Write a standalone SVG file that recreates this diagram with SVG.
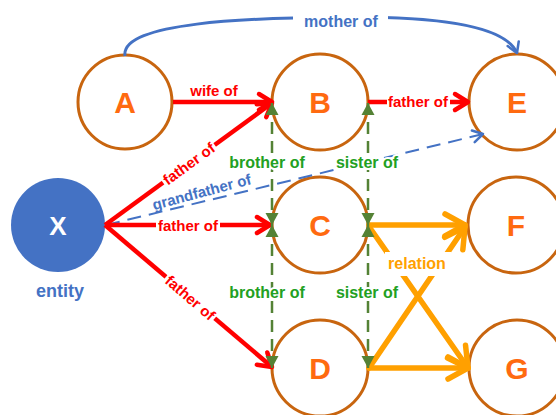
<svg xmlns="http://www.w3.org/2000/svg" width="556" height="415" viewBox="0 0 556 415">
<style>
text{font-family:"Liberation Sans",Arial,sans-serif;font-weight:bold;text-anchor:middle}
.node{fill:#fff;stroke:#C8650F;stroke-width:3}
.let{fill:#FF6A10;font-size:30px}
.red{stroke:#FF0000;stroke-width:4.5;fill:none;marker-end:url(#ar)}
.org{stroke:#FFA000;stroke-width:5.5;fill:none;marker-end:url(#ao);stroke-linecap:round}
.grn{stroke:#548235;stroke-width:2.5;fill:none;stroke-dasharray:12 7;marker-start:url(#ag);marker-end:url(#ag)}
.rl{fill:#FF0000;font-size:15px}
.gl{fill:#22A022;font-size:16px;stroke:#fff;stroke-width:4;paint-order:stroke;stroke-linejoin:round}
.bl{fill:#4472C4}
</style>
<defs>
<marker id="ar" viewBox="-16 -10 20 20" refX="0" refY="0" markerWidth="20" markerHeight="20" markerUnits="userSpaceOnUse" orient="auto" style="overflow:visible"><path d="M-13,-8 L0,0 L-13,8" fill="none" stroke="#FF0000" stroke-width="4.5" stroke-linecap="round" stroke-linejoin="round"/></marker>
<marker id="ao" viewBox="-24 -14 28 28" refX="0" refY="0" markerWidth="28" markerHeight="28" markerUnits="userSpaceOnUse" orient="auto" style="overflow:visible"><path d="M-20,-11 L0,0 L-20,11" fill="none" stroke="#FFA000" stroke-width="5.5" stroke-linecap="round" stroke-linejoin="round"/></marker>
<marker id="ab" viewBox="-12 -8 16 16" refX="0" refY="0" markerWidth="16" markerHeight="16" markerUnits="userSpaceOnUse" orient="auto" style="overflow:visible"><path d="M-10,-6 L0,0 L-10,6" fill="none" stroke="#4472C4" stroke-width="2.5" stroke-linecap="round" stroke-linejoin="round"/></marker>
<marker id="ag" viewBox="-14 -8 16 16" refX="0" refY="0" markerWidth="16" markerHeight="16" markerUnits="userSpaceOnUse" orient="auto-start-reverse" style="overflow:visible"><path d="M-12,-6.5 L0,0 L-12,6.5 Z" fill="#548235"/></marker>
</defs>

<g id="nodeA"><circle class="node" cx="125" cy="102" r="47"/><text class="let" x="125" y="113">A</text></g>
<g id="nodeB"><circle class="node" cx="320" cy="102" r="48"/><text class="let" x="320" y="113">B</text></g>
<g id="nodeE"><circle class="node" cx="517" cy="102" r="48"/><text class="let" x="517" y="113">E</text></g>
<g id="nodeC"><circle class="node" cx="320" cy="225" r="48"/><text class="let" x="320" y="236">C</text></g>
<g id="nodeF"><circle class="node" cx="516" cy="225" r="48"/><text class="let" x="516" y="236">F</text></g>
<g id="nodeD"><circle class="node" cx="320" cy="368" r="48"/><text class="let" x="320" y="379">D</text></g>
<g id="nodeG"><circle class="node" cx="517" cy="368" r="48"/><text class="let" x="517" y="379">G</text></g>
<g id="nodeX"><circle cx="58" cy="225" r="47" fill="#4472C4"/><text x="58" y="235" fill="#fff" font-size="26">X</text><text class="bl" x="60" y="297" font-size="18">entity</text></g>

<g id="connectors">
<path d="M125,56 C120,22 250,18 340,17 C430,16 505,24 517,53" fill="none" stroke="#4472C4" stroke-width="3" marker-end="url(#ab)"/>
<path d="M106,225 L483,134" fill="none" stroke="#4472C4" stroke-width="2" stroke-dasharray="14 8" marker-end="url(#ab)"/>
<path class="red" d="M173,102 L272,102"/>
<path class="red" d="M368,102 L468,102"/>
<path class="red" d="M105,225 L272,103"/>
<path class="red" d="M105,225 L270,225"/>
<path class="red" d="M105,225 L272,367"/>
<path class="org" d="M369,225 L465,225"/>
<path class="org" d="M370,228 L468,368"/>
<path class="org" d="M369,368 L465,227"/>
<path class="org" d="M369,368 L468,368"/>
<path class="grn" d="M272,103 L272,225"/>
<path class="grn" d="M272,225 L272,368"/>
<path class="grn" d="M368,103 L368,225"/>
<path class="grn" d="M368,225 L368,368"/>

<rect x="293" y="8" width="95" height="22" fill="#fff"/>
<text class="bl" x="341" y="27" font-size="16">mother of</text>
<text class="rl" x="214" y="96" font-size="16">wife of</text>
<rect x="387" y="94" width="63" height="17" fill="#fff"/>
<text class="rl" x="418" y="107">father of</text>
<rect x="156" y="217" width="64" height="17" fill="#fff"/>
<text class="rl" x="188" y="231">father of</text>
<g transform="translate(189,164) rotate(-36)"><rect x="-32" y="-8" width="64" height="16" fill="#fff"/><text class="rl" x="0" y="5">father of</text></g>
<g transform="translate(190,298) rotate(40.8)"><rect x="-32" y="-8" width="64" height="16" fill="#fff"/><text class="rl" x="0" y="5">father of</text></g>
<text class="gl" x="267" y="168">brother of</text>
<text class="gl" x="367" y="168">sister of</text>
<text class="bl" font-size="15" transform="translate(203,197) rotate(-15)">grandfather of</text>
<text class="gl" x="267" y="298">brother of</text>
<text class="gl" x="367" y="298">sister of</text>
<rect x="385" y="252" width="66" height="24" fill="#fff"/>
<text x="417" y="269" fill="#FFA000" font-size="16">relation</text>
</g>
</svg>
